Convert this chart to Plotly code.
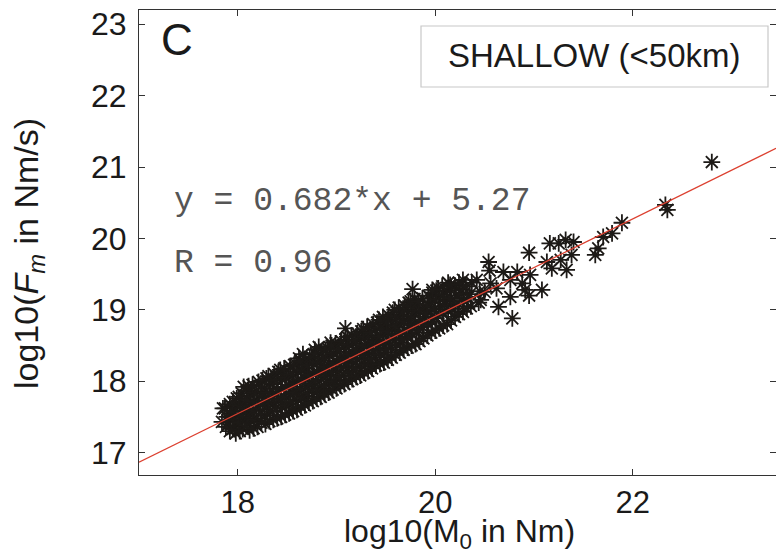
import numpy as np
import plotly.graph_objects as go

# ---- data ----
m0 = [
    17.84, 17.85,
    17.92, 17.91, 17.93, 17.92,
    17.98, 17.99, 17.97, 17.98, 17.99,
    18.05, 18.04, 18.06, 18.05, 18.04, 18.06,
    18.12, 18.13, 18.11, 18.12, 18.13, 18.11,
    18.20, 18.19, 18.21, 18.20, 18.19, 18.21,
    18.28, 18.27, 18.29, 18.28, 18.27, 18.29,
    18.36, 18.35, 18.37, 18.36, 18.35, 18.37,
    18.44, 18.45, 18.43, 18.44, 18.45, 18.43,
    18.52, 18.51, 18.53, 18.52, 18.51, 18.53,
    18.60, 18.61, 18.59, 18.60, 18.61, 18.59, 18.62,
    18.68, 18.67, 18.69, 18.68, 18.67, 18.69, 18.66,
    18.76, 18.77, 18.75, 18.76, 18.77, 18.75, 18.78,
    18.84, 18.83, 18.85, 18.84, 18.83, 18.85, 18.82,
    18.92, 18.93, 18.91, 18.92, 18.93, 18.91, 18.94,
    19.00, 19.01, 18.99, 19.00, 19.01, 18.99,
    19.08, 19.07, 19.09, 19.08, 19.07, 19.09,
    19.16, 19.17, 19.15, 19.16, 19.17, 19.15,
    19.24, 19.23, 19.25, 19.24, 19.23, 19.25,
    19.32, 19.33, 19.31, 19.32, 19.33, 19.31,
    19.40, 19.39, 19.41, 19.40, 19.39, 19.41,
    19.48, 19.49, 19.47, 19.48, 19.49, 19.47,
    19.56, 19.55, 19.57, 19.56, 19.55, 19.57,
    19.64, 19.65, 19.63, 19.64, 19.65, 19.63,
    19.72, 19.71, 19.73, 19.72, 19.71, 19.73,
    19.80, 19.81, 19.79, 19.80, 19.81, 19.79,
    19.88, 19.87, 19.89, 19.88, 19.87,
    19.96, 19.97, 19.95, 19.96, 19.97,
    20.04, 20.03, 20.05, 20.04, 20.03,
    20.12, 20.13, 20.11, 20.12, 20.13,
    20.20, 20.19, 20.21, 20.20,
    20.28, 20.29, 20.27, 20.28,
    20.36, 20.35, 20.37,
    17.88, 17.89, 17.87,
    17.95, 17.96, 17.94, 17.95,
    18.02, 18.01, 18.03, 18.02, 18.01,
    18.09, 18.10, 18.08, 18.09, 18.10,
    18.16, 18.17, 18.15, 18.16, 18.17, 18.15,
    18.24, 18.23, 18.25, 18.24, 18.23, 18.25,
    18.32, 18.33, 18.31, 18.32, 18.33, 18.31,
    18.40, 18.39, 18.41, 18.40, 18.39, 18.41,
    18.48, 18.49, 18.47, 18.48, 18.49, 18.47,
    18.56, 18.55, 18.57, 18.56, 18.55, 18.57,
    18.64, 18.65, 18.63, 18.64, 18.65, 18.63,
    18.72, 18.71, 18.73, 18.72, 18.71, 18.73,
    18.80, 18.81, 18.79, 18.80, 18.81, 18.79,
    18.88, 18.87, 18.89, 18.88, 18.87, 18.89,
    18.96, 18.97, 18.95, 18.96, 18.97, 18.95,
    19.04, 19.03, 19.05, 19.04, 19.03, 19.05,
    19.12, 19.13, 19.11, 19.12, 19.13, 19.11,
    19.20, 19.19, 19.21, 19.20, 19.19, 19.21,
    19.28, 19.29, 19.27, 19.28, 19.29, 19.27,
    19.36, 19.35, 19.37, 19.36, 19.35, 19.37,
    19.44, 19.45, 19.43, 19.44, 19.45, 19.43,
    19.52, 19.51, 19.53, 19.52, 19.51, 19.53,
    19.60, 19.61, 19.59, 19.60, 19.61, 19.59,
    19.68, 19.67, 19.69, 19.68, 19.67, 19.69,
    19.76, 19.77, 19.75, 19.76, 19.77, 19.75,
    19.84, 19.83, 19.85, 19.84, 19.83,
    19.92, 19.93, 19.91, 19.92, 19.93,
    20.00, 20.01, 19.99, 20.00, 20.01,
    20.08, 20.07, 20.09, 20.08, 20.07,
    20.16, 20.17, 20.15, 20.16,
    20.24, 20.23, 20.25, 20.24,
    20.32, 20.33, 20.31,
    20.44, 20.45,
    19.09, 19.77, 20.15, 19.97,
    20.54, 20.95, 21.16, 21.32, 21.40, 21.25, 21.13, 21.27, 21.38, 21.33,
    21.18, 21.62, 21.65, 21.70, 21.79, 21.89, 22.33, 22.35, 21.08, 20.96,
    20.95, 20.78, 20.64, 20.76, 20.83, 20.69, 20.56, 20.42, 20.46, 20.91,
    20.88, 20.76, 22.80, 20.55, 20.50, 20.62,
]
fm = [
    17.43, 17.62,
    17.30, 17.42, 17.55, 17.68,
    17.27, 17.38, 17.50, 17.63, 17.76,
    17.33, 17.45, 17.57, 17.70, 17.83, 17.92,
    17.31, 17.44, 17.56, 17.68, 17.80, 17.93,
    17.36, 17.48, 17.61, 17.73, 17.86, 17.99,
    17.40, 17.52, 17.65, 17.78, 17.90, 18.04,
    17.46, 17.57, 17.70, 17.83, 17.96, 18.10,
    17.50, 17.63, 17.76, 17.89, 18.02, 18.16,
    17.55, 17.68, 17.81, 17.94, 18.07, 18.21,
    17.60, 17.73, 17.86, 17.99, 18.12, 18.24, 18.32,
    17.66, 17.79, 17.92, 18.05, 18.18, 18.30, 18.38,
    17.72, 17.84, 17.97, 18.10, 18.23, 18.34, 18.44,
    17.78, 17.90, 18.03, 18.16, 18.29, 18.40, 18.48,
    17.84, 17.96, 18.09, 18.22, 18.35, 18.46, 18.54,
    17.90, 18.02, 18.15, 18.28, 18.41, 18.53,
    17.96, 18.08, 18.21, 18.34, 18.47, 18.58,
    18.03, 18.15, 18.28, 18.40, 18.53, 18.64,
    18.08, 18.20, 18.33, 18.46, 18.58, 18.70,
    18.14, 18.26, 18.39, 18.52, 18.64, 18.76,
    18.22, 18.33, 18.46, 18.58, 18.71, 18.82,
    18.26, 18.40, 18.53, 18.66, 18.79, 18.90,
    18.33, 18.47, 18.60, 18.73, 18.86, 18.96,
    18.40, 18.54, 18.67, 18.80, 18.93, 19.03,
    18.47, 18.62, 18.75, 18.88, 19.00, 19.10,
    18.52, 18.68, 18.82, 18.95, 19.08, 19.15,
    18.60, 18.76, 18.90, 19.03, 19.16,
    18.68, 18.83, 18.97, 19.10, 19.24,
    18.74, 18.92, 19.05, 19.18, 19.30,
    18.80, 18.98, 19.12, 19.27, 19.38,
    18.90, 19.05, 19.20, 19.34,
    18.97, 19.12, 19.28, 19.42,
    19.05, 19.22, 19.38,
    17.36, 17.50, 17.62,
    17.33, 17.46, 17.58, 17.71,
    17.30, 17.42, 17.54, 17.66, 17.78,
    17.38, 17.50, 17.62, 17.75, 17.87,
    17.34, 17.47, 17.59, 17.71, 17.84, 17.95,
    17.42, 17.55, 17.67, 17.80, 17.93, 18.01,
    17.44, 17.58, 17.71, 17.84, 17.97, 18.07,
    17.48, 17.62, 17.75, 17.88, 18.01, 18.13,
    17.53, 17.66, 17.79, 17.92, 18.05, 18.18,
    17.58, 17.71, 17.84, 17.97, 18.10, 18.23,
    17.64, 17.77, 17.90, 18.03, 18.16, 18.28,
    17.70, 17.83, 17.96, 18.09, 18.22, 18.34,
    17.76, 17.88, 18.01, 18.14, 18.27, 18.39,
    17.82, 17.94, 18.07, 18.20, 18.33, 18.44,
    17.88, 18.00, 18.13, 18.26, 18.39, 18.50,
    17.94, 18.06, 18.19, 18.32, 18.45, 18.56,
    18.00, 18.12, 18.25, 18.38, 18.51, 18.62,
    18.06, 18.18, 18.31, 18.44, 18.57, 18.67,
    18.12, 18.24, 18.37, 18.50, 18.62, 18.73,
    18.18, 18.30, 18.43, 18.56, 18.68, 18.80,
    18.24, 18.37, 18.50, 18.63, 18.75, 18.86,
    18.30, 18.44, 18.57, 18.70, 18.83, 18.92,
    18.37, 18.51, 18.64, 18.77, 18.90, 19.00,
    18.44, 18.58, 18.71, 18.84, 18.97, 19.06,
    18.50, 18.65, 18.79, 18.92, 19.04, 19.12,
    18.56, 18.72, 18.86, 18.99, 19.12,
    18.64, 18.80, 18.94, 19.07, 19.20,
    18.71, 18.88, 19.01, 19.14, 19.27,
    18.78, 18.95, 19.09, 19.22, 19.33,
    18.85, 19.02, 19.16, 19.30,
    18.94, 19.09, 19.24, 19.38,
    19.02, 19.17, 19.33,
    19.10, 19.26,
    18.74, 19.29, 19.35, 19.28,
    19.67, 19.80, 19.93, 19.98, 19.95, 19.93, 19.67, 19.70, 19.77, 19.56,
    19.58, 19.77, 19.86, 20.02, 20.07, 20.22, 20.47, 20.40, 19.28, 19.49,
    19.20, 18.88, 19.04, 19.18, 19.53, 19.53, 19.37, 19.42, 19.14, 19.28,
    19.37, 19.42, 21.07, 19.55, 19.25, 19.30,
]
fit_slope = 0.682
fit_intercept = 5.27
fit_r = 0.96
x_ticks = [18, 20, 22]
y_ticks = [17, 18, 19, 20, 21, 22, 23]
x_range = [17.0, 23.45]
y_range = [16.686, 23.2]
panel_label = "C"
legend_text = "SHALLOW (<50km)"

W, H = 776, 558
ML, MR, MT, MB = 139, 0, 10, 83
PW, PH = W - ML - MR, H - MT - MB


def px(x):
    return (x - ML) / PW


def py(y):
    return 1 - (y - MT) / PH


fig = go.Figure()
fig.add_trace(go.Scatter(
    x=m0, y=fm, mode="markers",
    marker=dict(symbol="asterisk-open", size=14,
                line=dict(color="#1d1a17", width=1.8), color="#1d1a17"),
    showlegend=False, hoverinfo="skip",
))
fx = np.array(x_range)
fig.add_trace(go.Scatter(
    x=fx, y=fit_slope * fx + fit_intercept, mode="lines",
    line=dict(color="#dc4030", width=1.3), showlegend=False, hoverinfo="skip",
))

sans = "Liberation Sans, Arial, sans-serif"
mono = "Liberation Mono, Courier New, monospace"
axis_common = dict(
    showgrid=False, zeroline=False, showline=True, linecolor="#333333",
    linewidth=1.2, ticks="inside", ticklen=6, tickcolor="#333333",
    tickwidth=1, mirror="ticks",
)
fig.update_xaxes(range=x_range, tickvals=x_ticks, ticklabelstandoff=0,
                 tickfont=dict(family=sans, size=31, color="#1a1a1a"), **axis_common)
fig.update_yaxes(range=y_range, tickvals=y_ticks, ticklabelstandoff=5,
                 tickfont=dict(family=sans, size=32, color="#1a1a1a"), **axis_common)

annotations = [
    dict(x=px(177), y=py(40), text=panel_label, font=dict(family=sans, size=44, color="#1a1a1a")),
    dict(x=px(172), y=py(202), xanchor="left",
         text=f"y = {fit_slope}*x + {fit_intercept}",
         font=dict(family=mono, size=33, color="#555555")),
    dict(x=px(172), y=py(263), xanchor="left",
         text=f"R = {fit_r}",
         font=dict(family=mono, size=33, color="#555555")),
    dict(x=px(594), y=py(56), text=legend_text,
         font=dict(family=sans, size=33, color="#1a1a1a")),
    dict(x=px(459), y=py(533),
         text="log10(M<sub>0</sub> in Nm)",
         font=dict(family=sans, size=32, color="#1a1a1a")),
    dict(x=px(28), y=py(254), textangle=-90,
         text="log10(<i>F</i><sub><i>m</i></sub> in Nm/s)",
         font=dict(family=sans, size=34, color="#1a1a1a")),
]
for a in annotations:
    a.setdefault("xanchor", "center")
    a.update(xref="paper", yref="paper", showarrow=False, yanchor="middle")
fig.update_layout(annotations=annotations)

fig.add_shape(type="rect", xref="paper", yref="paper",
              x0=px(421), x1=px(768), y0=py(87), y1=py(26),
              line=dict(color="#c8c8c8", width=1.2), fillcolor="white", layer="above")

fig.update_layout(
    width=W, height=H, margin=dict(l=ML, r=MR, t=MT, b=MB),
    plot_bgcolor="white", paper_bgcolor="white",
)
fig.write_html("out.html")
